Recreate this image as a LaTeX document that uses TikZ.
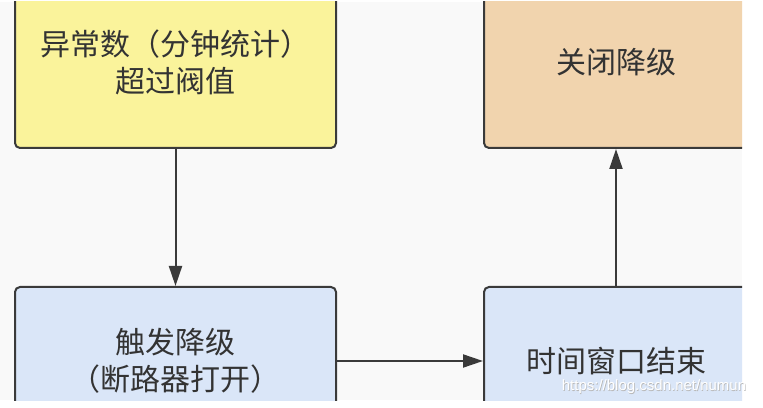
\documentclass[tikz,border=0pt]{standalone}
\usepackage{fontspec}
\newfontfamily\cjk{Noto Sans CJK SC}
\newfontfamily\wmfont{Liberation Sans}
\usetikzlibrary{positioning,arrows.meta}
\definecolor{bgpaper}{HTML}{F9F9F9}
\definecolor{boxline}{HTML}{3A3A3A}
\definecolor{textgray}{HTML}{333333}
\definecolor{alertfill}{HTML}{FAF39B}
\definecolor{closefill}{HTML}{F1D4AE}
\definecolor{openfill}{HTML}{DAE6F8}
\definecolor{markgray}{HTML}{B8B8B8}
\tikzset{
  box/.style={draw=boxline, line width=2pt, rounded corners=5pt, text=textgray,
    align=center, inner sep=0pt, font=\cjk\fontsize{30}{37.5}\selectfont},
  flow/.style={-{Triangle[length=20pt,width=13pt]}, draw=boxline, line width=2pt},
  watermark/.style={font=\wmfont\fontsize{15}{15}\selectfont}
}
\begin{document}
\begin{tikzpicture}[x=1pt, y=1pt]
  \useasboundingbox (0,0) rectangle (763,407);
  \fill[white] (0,0) rectangle (763,407);
  \fill[bgpaper] (0,7) rectangle (742,405);
  \begin{scope}
    \clip (0,7) rectangle (742,405);
    \node[box, fill=alertfill, minimum width=321pt, minimum height=171pt] (alert) at (175.5,344.5) {异常数（分钟统计）\\超过阀值};
    \node[box, fill=openfill, minimum width=321pt, minimum height=148pt, below=137pt of alert] (trip) {触发降级\\（断路器打开）};
    \node[box, fill=openfill, minimum width=264pt, minimum height=148pt, right=146pt of trip] (window) {时间窗口结束};
    \node[box, fill=closefill, minimum width=264pt, minimum height=171pt, above=137pt of window] (close) {关闭降级};

    \draw[flow] (alert) -- (trip);
    \draw[flow] (trip) -- (window);
    \draw[flow] (window) -- (close);
  \end{scope}
  % watermark with a soft shadow
  \node[watermark, text=markgray] (markshade) at (654.7,19.3) {https://blog.csdn.net/numun};
  \node[watermark, text=white] (mark) at (654,20) {https://blog.csdn.net/numun};
\end{tikzpicture}
\end{document}
